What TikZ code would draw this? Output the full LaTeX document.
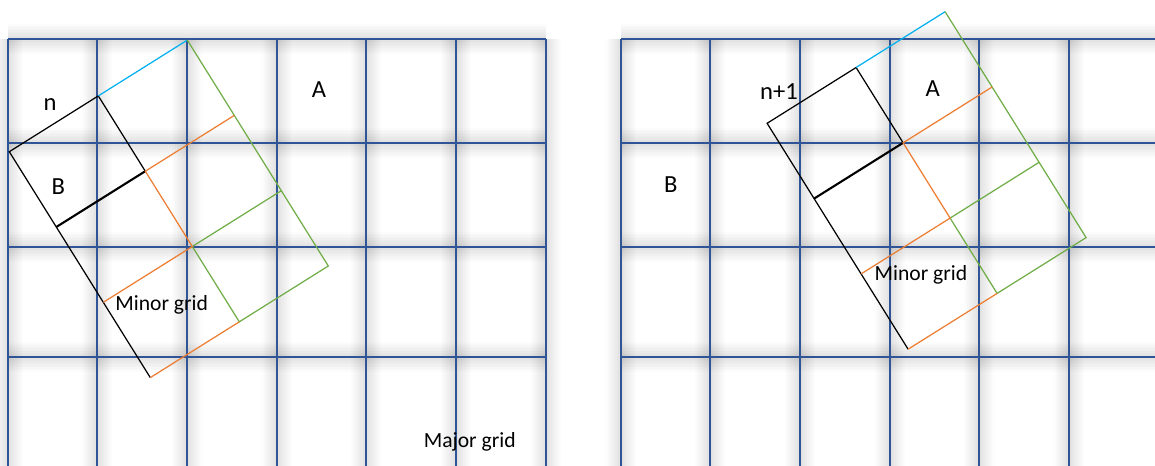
\documentclass[tikz,border=0pt]{standalone}
\usepackage{fontspec}
\setmainfont{Carlito}
\usetikzlibrary{calc}

\definecolor{gridblue}{RGB}{47,85,151}
\definecolor{segcyan}{RGB}{0,176,240}
\definecolor{segorange}{RGB}{237,125,49}
\definecolor{seggreen}{RGB}{112,173,71}

% corners of the tilted 2x3 minor grid: prefix, x0, y0
\newcommand{\tiltgrid}[3]{%
  \foreach \i in {0,1,2} {
    \foreach \j in {0,...,3} {
      \coordinate (#1-\i-\j) at ({#2+89*\i+47*\j},{#3-55.8*\i+75.3*\j});
    }
  }%
}

\begin{document}
\begin{tikzpicture}[x=0.02cm, y=-0.02cm,
    glow/.style={black, opacity=0.012},
    major/.style={draw=gridblue, line width=0.9pt},
    seg/.style={line width=0.7pt},
    lbl/.style={font=\fontsize{14}{16}\selectfont, inner sep=0pt},
    tag/.style={font=\fontsize{12.3}{14}\selectfont, inner sep=0pt}
]
\clip (0,0) rectangle (1155,466);
\fill[white] (0,0) rectangle (1155,466);

% major grid, left and right: soft shadow first, then the lines
\foreach \xa/\xb/\cols in {8/546/{8,97,187,277,366,456,546},
                           621/1158/{621,710,800,890,979,1069}} {
  \foreach \w in {1.7,3.4,5.1,6.8,8.5,10.2,11.9,13.6,15.3,17} {
    \foreach \x in \cols
      \draw[glow, line width=\w pt] (\x,39) -- (\x,470);
    \foreach \y in {39,143,247,357}
      \draw[glow, line width=\w pt] (\xa,\y) -- (\xb,\y);
  }
  \foreach \x in \cols
    \draw[major] (\x,39) -- (\x,470);
  \foreach \y in {39,143,247,357}
    \draw[major] (\xa,\y) -- (\xb,\y);
}

\tiltgrid{L}{9.3}{151.7}
\tiltgrid{R}{767.1}{123.3}

\foreach \g in {L,R} {
  \draw[seg, black] (\g-0-3) -- (\g-0-0) -- (\g-1-0) -- (\g-1-1);
  \draw[seg, black, line width=1.2pt] (\g-1-1) -- (\g-0-1);
  \draw[seg, segcyan] (\g-1-0) -- (\g-2-0);
  \draw[seg, seggreen] (\g-2-0) -- (\g-2-3) -- (\g-1-3) -- (\g-1-2) -- (\g-2-2);
  \draw[seg, segorange] (\g-2-1) -- (\g-1-1) -- (\g-1-2) -- (\g-0-2);
  \draw[seg, segorange] (\g-1-3) -- (\g-0-3);
}

\node[lbl] (nL) at (50,105) {n};
\node[lbl] (bL) at (58.3,186.7) {B};
\node[lbl] (aL) at (319,90) {A};
\node[tag] (minorL) at (161.7,305) {Minor grid};
\node[tag] (major) at (469.7,442) {Major grid};

\node[lbl] (nR) at (779,92) {n+1};
\node[lbl] (aR) at (932.7,88.3) {A};
\node[lbl] (bR) at (670.8,185) {B};
\node[tag] (minorR) at (920.9,275) {Minor grid};
\end{tikzpicture}
\end{document}
